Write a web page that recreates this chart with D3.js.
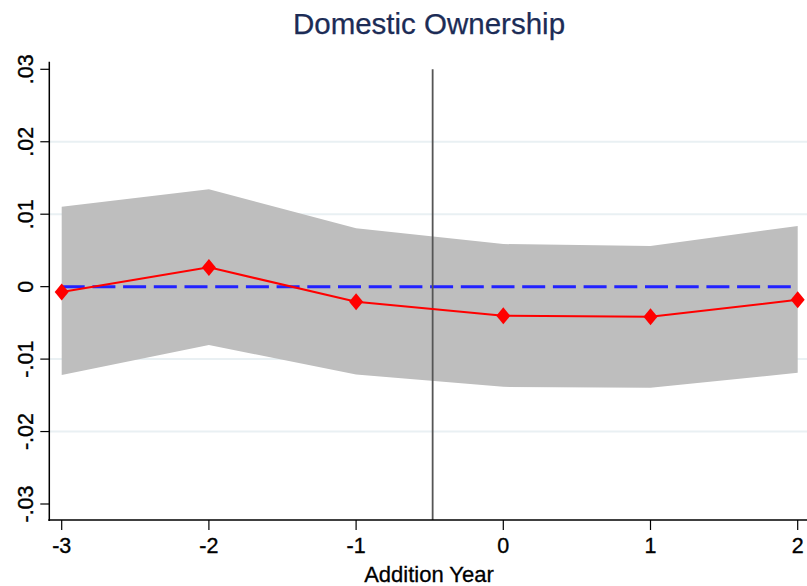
<!DOCTYPE html>
<html>
<head>
<meta charset="utf-8">
<script src="https://cdn.jsdelivr.net/npm/d3@7"></script>
<style>
  html, body { margin: 0; padding: 0; background: #fff; }
  svg { display: block; font-family: "Liberation Sans", Arial, Helvetica, sans-serif; }
</style>
</head>
<body>
<svg id="chart" width="807" height="586"></svg>
<script>
// Event-study estimates for domestic ownership around the index addition year
const years = [-3, -2, -1, 0, 1, 2];
const coef = [-0.00075, 0.00266, -0.00208, -0.00402, -0.00416, -0.00181];
const ciUpper = [0.01103, 0.01344, 0.00806, 0.00588, 0.00561, 0.00837];
const ciLower = [-0.01221, -0.00807, -0.01211, -0.01383, -0.01396, -0.01189];
const yTicks = [-0.03, -0.02, -0.01, 0, 0.01, 0.02, 0.03];
const yGridTicks = [-0.02, -0.01, 0.01, 0.02];
const xTicks = [-3, -2, -1, 0, 1, 2];
const eventLine = -0.48;
const refLevel = 0;
const titleText = "Domestic Ownership";
const xTitle = "Addition Year";

const svg = d3.select("#chart");
const W = 807, H = 586;

const x = d3.scaleLinear().domain([-3, 2]).range([61.7, 797.7]);
const y = d3.scaleLinear().domain([-0.03, 0.03]).range([504, 69.3]);

const axisX0 = 49.3, axisY0 = 520, plotTop = 61.7;

const fmtY = v => v === 0 ? "0" : (v < 0 ? "-" : "") + d3.format(".2f")(Math.abs(v)).replace(/^0/, "");

// grid lines
svg.append("g").selectAll("line").data(yGridTicks).join("line")
  .attr("x1", axisX0).attr("x2", W)
  .attr("y1", d => y(d)).attr("y2", d => y(d))
  .attr("stroke", "#e9f0f3").attr("stroke-width", 2);

// confidence band
const rows = years.map((yr, i) => ({ yr, lo: ciLower[i], hi: ciUpper[i], b: coef[i] }));
svg.append("path").datum(rows)
  .attr("d", d3.area().x(d => x(d.yr)).y0(d => y(d.lo)).y1(d => y(d.hi)))
  .attr("fill", "#bebebe");

// reference line at zero
svg.append("line")
  .attr("x1", x(years[0])).attr("x2", x(years[years.length - 1]))
  .attr("y1", y(refLevel)).attr("y2", y(refLevel))
  .attr("stroke", "#2222ff").attr("stroke-width", 3)
  .attr("stroke-dasharray", "23,7.7");

// event line
svg.append("line")
  .attr("x1", x(eventLine)).attr("x2", x(eventLine))
  .attr("y1", y(0.03)).attr("y2", axisY0)
  .attr("stroke", "#555").attr("stroke-width", 1.8);

// estimates
svg.append("path").datum(rows)
  .attr("d", d3.line().x(d => x(d.yr)).y(d => y(d.b)))
  .attr("fill", "none").attr("stroke", "#ff0000").attr("stroke-width", 2);

svg.append("g").selectAll("path").data(rows).join("path")
  .attr("transform", d => `translate(${x(d.yr)},${y(d.b)})`)
  .attr("d", "M0,-8.5L7,0L0,8.5L-7,0Z")
  .attr("fill", "#ff0000");

// y axis
const gy = svg.append("g").attr("transform", `translate(${axisX0},0)`);
gy.append("line").attr("x1", 0).attr("x2", 0).attr("y1", plotTop).attr("y2", axisY0 + 1)
  .attr("stroke", "#000").attr("stroke-width", 1.5);
gy.selectAll("line.tk").data(yTicks).join("line").attr("class", "tk")
  .attr("x1", -9).attr("x2", 0).attr("y1", d => y(d)).attr("y2", d => y(d))
  .attr("stroke", "#000").attr("stroke-width", 1.2);
gy.selectAll("text").data(yTicks).join("text")
  .attr("transform", d => `translate(-16,${y(d)}) rotate(-90)`)
  .attr("text-anchor", "middle")
  .attr("font-size", 21.5)
  .attr("fill", "#000").attr("stroke", "#000").attr("stroke-width", 0.35)
  .text(fmtY);

// x axis
const gx = svg.append("g").attr("transform", `translate(0,${axisY0})`);
gx.append("line").attr("x1", axisX0 - 1).attr("x2", W).attr("y1", 0).attr("y2", 0)
  .attr("stroke", "#000").attr("stroke-width", 1.5);
gx.selectAll("line.tk").data(xTicks).join("line").attr("class", "tk")
  .attr("x1", d => x(d)).attr("x2", d => x(d)).attr("y1", 0).attr("y2", 10)
  .attr("stroke", "#000").attr("stroke-width", 1.2);
gx.selectAll("text").data(xTicks).join("text")
  .attr("x", d => x(d)).attr("y", 33)
  .attr("text-anchor", "middle")
  .attr("font-size", 21.5)
  .attr("fill", "#000").attr("stroke", "#000").attr("stroke-width", 0.35)
  .text(d => d);

svg.append("text")
  .attr("x", 429).attr("y", 581.5)
  .attr("text-anchor", "middle")
  .attr("font-size", 22)
  .attr("fill", "#000").attr("stroke", "#000").attr("stroke-width", 0.3)
  .text(xTitle);

svg.append("text")
  .attr("x", 429).attr("y", 33.5)
  .attr("text-anchor", "middle")
  .attr("font-size", 29.5)
  .attr("fill", "#1c2c56").attr("stroke", "#1c2c56").attr("stroke-width", 0.25)
  .text(titleText);
</script>
</body>
</html>
